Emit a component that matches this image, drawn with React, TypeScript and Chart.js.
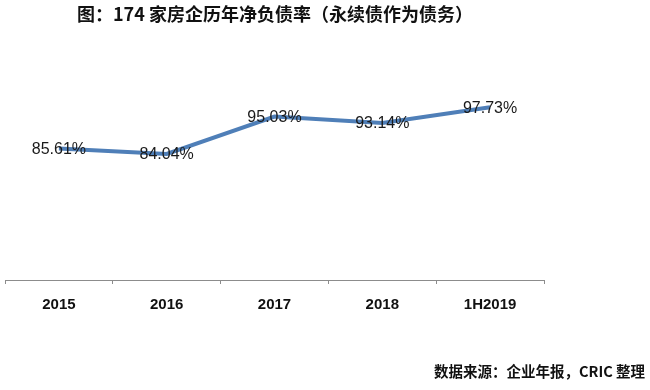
import React, { useEffect, useRef } from "react";
import { Chart, registerables } from "chart.js";

Chart.register(...registerables);

const categories = ["2015", "2016", "2017", "2018", "1H2019"];
const netDebtRatio = [85.61, 84.04, 95.03, 93.14, 97.73];
const titleText = "图：174 家房企历年净负债率（永续债作为债务）";
const sourceText = "数据来源：企业年报，CRIC 整理";

const labelPlugin = {
  id: "valueLabels",
  afterDatasetsDraw(chart: any) {
    const ctx = chart.ctx;
    const meta = chart.getDatasetMeta(0);
    ctx.save();
    ctx.font = "16px 'Liberation Sans', Arial, sans-serif";
    ctx.fillStyle = "#1a1a1a";
    ctx.textAlign = "center";
    ctx.textBaseline = "middle";
    meta.data.forEach((pt: any, i: number) => {
      const v = netDebtRatio[i];
      ctx.fillText(v.toFixed(2) + "%", pt.x, pt.y + 1);
    });
    ctx.restore();
  },
};

export default function App() {
  const ref = useRef<HTMLCanvasElement>(null);
  useEffect(() => {
    document.body.style.margin = "0";
    const chart = new Chart(ref.current!, {
      type: "line",
      data: {
        labels: categories,
        datasets: [
          {
            data: netDebtRatio,
            borderColor: "#4f7fb8",
            borderWidth: 4,
            pointRadius: 0,
            tension: 0,
            fill: false,
          },
        ],
      },
      options: {
        animation: false,
        responsive: false,
        layout: { padding: { top: 40, left: 5, right: 106, bottom: 0 } },
        plugins: { legend: { display: false }, tooltip: { enabled: false } },
        scales: {
          x: {
            offset: true,
            grid: {
              offset: true,
              drawOnChartArea: false,
              drawTicks: true,
              tickLength: 4,
              color: "#8c8c8c",
            },
            border: { display: true, color: "#8c8c8c", width: 1 },
            ticks: {
              color: "#111",
              padding: 12,
              font: { family: "'Liberation Sans', Arial, sans-serif", size: 15, weight: "bold" },
            },
            afterFit(scale: any) {
              scale.height = 110;
            },
          },
          y: { display: false, min: 47, max: 117.5 },
        },
      },
      plugins: [labelPlugin],
    });
    return () => chart.destroy();
  }, []);
  return (
    <div style={{ position: "relative", width: 650, height: 390, background: "#fff" }}>
      <canvas ref={ref} width={650} height={390} style={{ position: "absolute", left: 0, top: 0 }} />
      <div
        style={{
          position: "absolute",
          left: 77,
          top: 3,
          fontFamily: "'Noto Sans CJK SC', sans-serif",
          fontWeight: "bold",
          fontSize: 18,
          color: "#111",
          whiteSpace: "nowrap",
          lineHeight: "21px",
        }}
      >
        {titleText}
      </div>
      <div
        style={{
          position: "absolute",
          right: 5,
          top: 361,
          fontFamily: "'Noto Sans CJK SC', sans-serif",
          fontWeight: "bold",
          fontSize: 14.5,
          color: "#111",
          whiteSpace: "nowrap",
          lineHeight: "20px",
        }}
      >
        {sourceText}
      </div>
    </div>
  );
}
